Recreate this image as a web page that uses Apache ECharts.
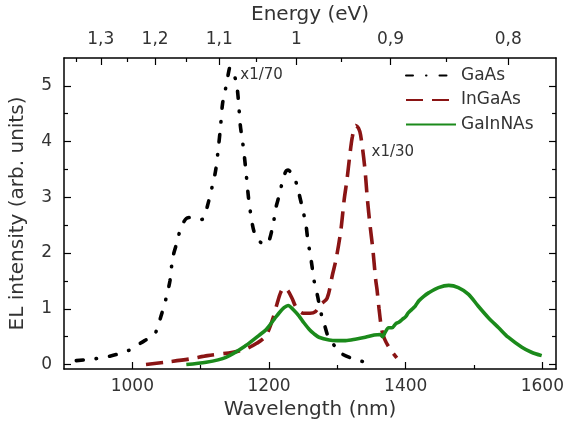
<!DOCTYPE html>
<html>
<head>
<meta charset="utf-8">
<script src="https://cdn.jsdelivr.net/npm/echarts@6/dist/echarts.min.js"></script>
<style>
  html, body { margin: 0; padding: 0; background: #fff; }
  #chart { width: 567px; height: 425px; }
</style>
</head>
<body>
<div id="chart"></div>
<script>
// wavelength (nm) / EL intensity
const gaasWl = [918, 943, 967, 994, 1018, 1030, 1035, 1042, 1049, 1055, 1059, 1065, 1071, 1079, 1088, 1097, 1104, 1110, 1117, 1122, 1126, 1129, 1132, 1136, 1140, 1143, 1147, 1152, 1155, 1158, 1161, 1164, 1167, 1170, 1173, 1178, 1186, 1196, 1205, 1210, 1215, 1219, 1224, 1228, 1233, 1239, 1244, 1249, 1254, 1257, 1260, 1263, 1266, 1271, 1276, 1281, 1287, 1297, 1307, 1324, 1339, 1353];
const gaasVal = [0.07, 0.10, 0.15, 0.25, 0.43, 0.51, 0.60, 0.87, 1.17, 1.50, 1.91, 2.18, 2.45, 2.62, 2.64, 2.60, 2.62, 2.85, 3.20, 3.49, 3.90, 4.26, 4.68, 4.92, 5.19, 5.33, 5.25, 5.07, 4.77, 4.29, 4.03, 3.73, 3.37, 2.99, 2.72, 2.39, 2.21, 2.15, 2.45, 2.81, 3.04, 3.25, 3.45, 3.49, 3.42, 3.29, 3.06, 2.80, 2.51, 2.21, 2.00, 1.76, 1.50, 1.23, 0.93, 0.72, 0.49, 0.32, 0.19, 0.10, 0.05, 0.03];

const ingaasWl = [1020, 1047, 1084, 1110, 1147, 1166, 1182, 1195, 1205, 1212, 1217, 1222, 1228, 1234, 1240, 1250, 1260, 1268, 1275, 1285, 1293, 1298, 1305, 1310, 1314, 1318, 1322, 1327, 1331, 1334, 1340, 1344, 1348, 1352, 1356, 1358, 1361, 1365, 1369, 1376, 1387];
const ingaasVal = [0.00, 0.04, 0.10, 0.16, 0.22, 0.28, 0.38, 0.51, 0.80, 1.10, 1.29, 1.38, 1.32, 1.18, 1.02, 0.92, 0.92, 0.95, 1.07, 1.19, 1.62, 1.88, 2.40, 2.96, 3.31, 3.73, 4.09, 4.29, 4.24, 4.12, 3.55, 2.96, 2.48, 2.06, 1.53, 1.35, 1.00, 0.62, 0.46, 0.30, 0.12];

const gainnasWl = [1079, 1108, 1137, 1166, 1185, 1196, 1208, 1215, 1222, 1228, 1236, 1244, 1251, 1259, 1266, 1273, 1288, 1300, 1312, 1328, 1341, 1354, 1363, 1366, 1370, 1375, 1380, 1386, 1390, 1395, 1400, 1404, 1409, 1414, 1419, 1426, 1434, 1448, 1463, 1477, 1492, 1506, 1521, 1536, 1550, 1570, 1584, 1599];
const gainnasVal = [0.00, 0.04, 0.13, 0.34, 0.52, 0.63, 0.82, 0.93, 1.02, 1.06, 0.98, 0.87, 0.75, 0.63, 0.55, 0.49, 0.44, 0.43, 0.43, 0.46, 0.49, 0.53, 0.54, 0.50, 0.58, 0.66, 0.66, 0.74, 0.76, 0.81, 0.86, 0.93, 0.99, 1.05, 1.14, 1.22, 1.29, 1.38, 1.42, 1.38, 1.26, 1.05, 0.84, 0.66, 0.49, 0.31, 0.22, 0.16];

// axis ticks
const wlTicks = [1000, 1200, 1400, 1600];
const wlMinor = [1100, 1300, 1500];
const yTicks = [0, 1, 2, 3, 4, 5];
const yMinor = [0.5, 1.5, 2.5, 3.5, 4.5];
const energyTicks = [1.3, 1.2, 1.1, 1.0, 0.9, 0.8];
const energyMinor = [1.35, 1.25, 1.15, 1.05, 0.95, 0.85];

const HC = 1240; // eV*nm
const toWl = e => HC / e;

const zip = (a, b) => a.map((x, i) => [x, b[i]]);

const font = "DejaVu Sans";
const txt = "#333";
const xMin = 900, xMax = 1620, yMin = -0.08, yMax = 5.5;

function xAx(opt) {
  return Object.assign({
    type: "value", min: xMin, max: xMax,
    splitLine: { show: false },
    axisLine: { onZero: false, lineStyle: { color: "#000", width: 1.5 } },
    axisLabel: { show: false }
  }, opt);
}
function yAx(opt) {
  return Object.assign({
    type: "value", min: yMin, max: yMax,
    splitLine: { show: false },
    axisLine: { onZero: false, lineStyle: { color: "#000", width: 1.5 } },
    axisLabel: { show: false }
  }, opt);
}
const tick = (vals, len) => ({ inside: true, length: len, customValues: vals, lineStyle: { color: "#000", width: 1.2 } });

const option = {
  animation: false,
  backgroundColor: "#fff",
  grid: { left: 64, right: 9, top: 57, bottom: 55 },
  legend: {
    orient: "vertical",
    left: 400, top: 62,
    itemWidth: 50, itemHeight: 16, itemGap: 7.5,
    itemStyle: { opacity: 0 },
    textStyle: { fontFamily: font, fontSize: 17, color: txt },
    data: ["GaAs", "InGaAs", "GaInNAs"]
  },
  xAxis: [
    xAx({
      position: "bottom",
      name: "Wavelength (nm)", nameLocation: "middle", nameGap: 31,
      nameTextStyle: { fontFamily: font, fontSize: 20, color: txt },
      axisTick: tick(wlTicks, 7),
      axisLabel: { show: true, customValues: wlTicks, margin: 9, fontFamily: font, fontSize: 17, color: txt, formatter: v => String(v) }
    }),
    xAx({ position: "bottom", axisLine: { show: false, onZero: false }, axisTick: tick(wlMinor, 4) }),
    xAx({
      position: "top",
      name: "Energy (eV)", nameLocation: "middle", nameGap: 33,
      nameTextStyle: { fontFamily: font, fontSize: 20, color: txt },
      axisTick: tick(energyTicks.map(toWl), 7),
      axisLabel: {
        show: true, customValues: energyTicks.map(toWl), margin: 10,
        fontFamily: font, fontSize: 17, color: txt,
        formatter: v => String(Math.round(HC / v * 10) / 10).replace(".", ",")
      }
    }),
    xAx({ position: "top", axisLine: { show: false, onZero: false }, axisTick: tick(energyMinor.map(toWl), 4) })
  ],
  yAxis: [
    yAx({
      position: "left",
      name: "EL intensity (arb. units)", nameLocation: "middle", nameGap: 36,
      nameTextStyle: { fontFamily: font, fontSize: 20, color: txt },
      axisTick: tick(yTicks, 7),
      axisLabel: { show: true, customValues: yTicks, margin: 12, fontFamily: font, fontSize: 17, color: txt }
    }),
    yAx({ position: "left", axisLine: { show: false, onZero: false }, axisTick: tick(yMinor, 4) }),
    yAx({ position: "right", axisTick: tick(yTicks, 7) }),
    yAx({ position: "right", axisLine: { show: false, onZero: false }, axisTick: tick(yMinor, 4) })
  ],
  series: [
    {
      name: "GaAs", type: "line", symbol: "none", smooth: 0.3,
      data: zip(gaasWl, gaasVal),
      itemStyle: { color: "#000" },
      lineStyle: { color: "#000", width: 3.6, type: [7, 13, 0.5, 13], cap: "round" },
      markPoint: {
        symbol: "circle", symbolSize: 0, silent: true,
        label: { show: true, position: "right", distance: 0, formatter: "x1/70", fontFamily: font, fontSize: 15, color: txt },
        data: [{ coord: [1158, 5.19] }]
      }
    },
    {
      name: "InGaAs", type: "line", symbol: "none", smooth: 0.3,
      data: zip(ingaasWl, ingaasVal),
      itemStyle: { color: "#8a1414" },
      lineStyle: { color: "#8a1414", width: 3.6, type: [17, 9] },
      markPoint: {
        symbol: "circle", symbolSize: 0, silent: true,
        label: { show: true, position: "right", distance: 0, formatter: "x1/30", fontFamily: font, fontSize: 15, color: txt },
        data: [{ coord: [1350, 3.81] }]
      }
    },
    {
      name: "GaInNAs", type: "line", symbol: "none", smooth: 0.3,
      data: zip(gainnasWl, gainnasVal),
      itemStyle: { color: "#1b8a1b" },
      lineStyle: { color: "#1b8a1b", width: 3.6 }
    }
  ]
};

const chart = echarts.init(document.getElementById("chart"));
chart.setOption(option);
</script>
</body>
</html>
